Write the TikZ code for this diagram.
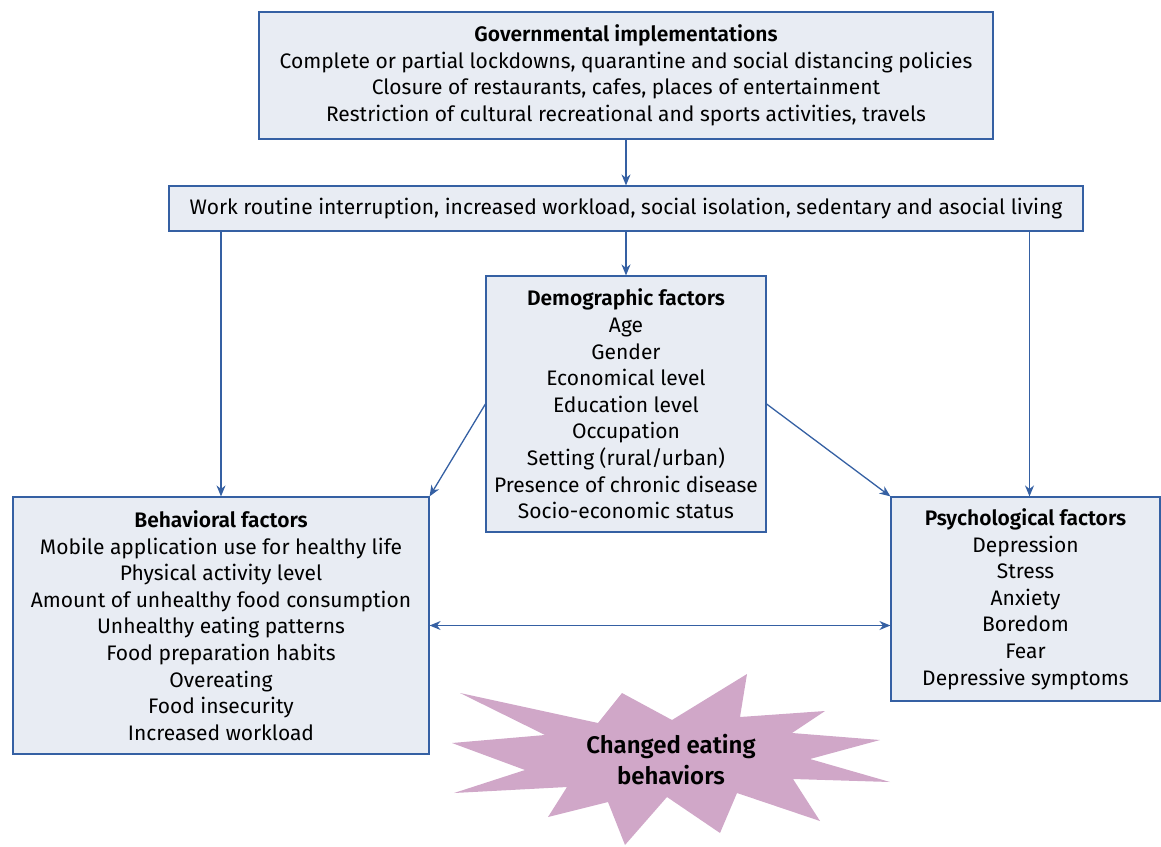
\documentclass[tikz,border=0pt]{standalone}
\usepackage{fontspec}
\setmainfont{Fira Sans}[BoldFont={* SemiBold}]
\usetikzlibrary{arrows.meta}

\definecolor{boxfill}{HTML}{E8ECF3}
\definecolor{boxline}{HTML}{3560A3}
\definecolor{burst}{HTML}{D0A7C8}

\tikzset{%
  fbox/.style={draw=boxline, fill=boxfill, line width=1.2pt, align=center,
    inner sep=0pt, font=\fontsize{21}{26.6}\selectfont},
  flow/.style={draw=boxline, line width=1.3pt, -{Stealth[length=11pt,width=9pt]}},
}

\begin{document}
\begin{tikzpicture}[x=1pt,y=-1pt]
  \useasboundingbox (0,0) rectangle (1161,846);

  \node[fbox, minimum width=734, minimum height=127] (gov) at (626,75.5)
    {\textbf{Governmental implementations}\\
     Complete or partial lockdowns, quarantine and social distancing policies\\
     Closure of restaurants, cafes, places of entertainment\\
     Restriction of cultural recreational and sports activities, travels};
  \node[fbox, minimum width=914, minimum height=45] (work) at (626,208.5)
    {Work routine interruption, increased workload, social isolation, sedentary and asocial living};
  \node[fbox, minimum width=280, minimum height=256] (demo) at (626,404)
    {\textbf{Demographic factors}\\ Age\\ Gender\\ Economical level\\ Education level\\
     Occupation\\ Setting (rural/urban)\\ Presence of chronic disease\\ Socio-economic status};
  \node[fbox, minimum width=416, minimum height=257] (behav) at (221,625.5)
    {\textbf{Behavioral factors}\\ Mobile application use for healthy life\\ Physical activity level\\
     Amount of unhealthy food consumption\\ Unhealthy eating patterns\\ Food preparation habits\\
     Overeating\\ Food insecurity\\ Increased workload};
  \node[fbox, minimum width=269, minimum height=204] (psych) at (1025.5,599)
    {\textbf{Psychological factors}\\ Depression\\ Stress\\ Anxiety\\ Boredom\\ Fear\\ Depressive symptoms};

  % starburst
  \fill[burst] (460,693) -- (598,723) -- (622,693) -- (672,720) -- (747,674) -- (740,717)
    -- (825,711) -- (792,733) -- (880,740) -- (810,759) -- (890,782) -- (793,779)
    -- (820,821) -- (737,793) -- (720,833) -- (667,797) -- (625,845) -- (608,802)
    -- (548,817) -- (567,787) -- (454,793) -- (525,770) -- (452,743) -- (545,735) -- cycle;
  \node[align=center, inner sep=0pt, font=\fontsize{24}{31}\selectfont\bfseries] (eat) at (671,760)
    {Changed eating\\ behaviors};

  % connectors
  \draw[flow] (gov) -- (work);
  \draw[flow] (work) -- (demo);
  \draw[flow] (work.south -| behav) -- (behav);
  \coordinate (pin) at ([xshift=4pt]psych.north);
  \draw[flow] (work.south -| pin) -- (pin);
  \draw[flow] (demo.west) -- (behav.north east);
  \draw[flow] (demo.east) -- (psych.north west);
  \draw[flow, {Stealth[length=11pt,width=9pt]}-{Stealth[length=11pt,width=9pt]}]
    (behav.east) -- (behav.east -| psych.west);
\end{tikzpicture}
\end{document}
